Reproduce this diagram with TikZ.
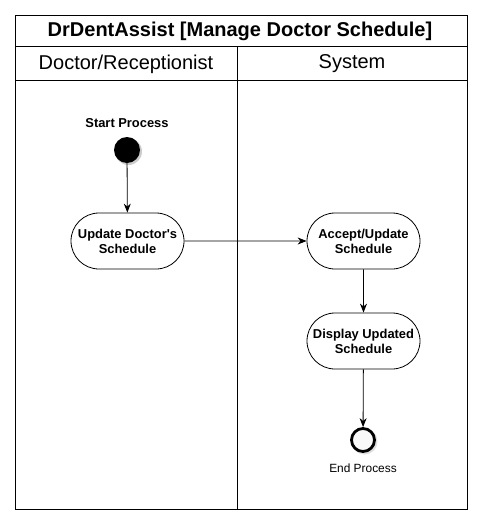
\documentclass[tikz,border=0pt]{standalone}
\usepackage{fontspec}
\setmainfont{Liberation Sans}
\usetikzlibrary{arrows.meta,shapes.misc}
\begin{document}
\begin{tikzpicture}[x=1pt,y=-1pt,
  lane/.style={draw=black,line width=0.8pt},
  act/.style={draw=black,line width=0.8pt,rounded rectangle,minimum width=117pt,minimum height=56pt,
    align=center,font=\fontsize{12.9}{15}\selectfont\bfseries,inner sep=2pt},
  flow/.style={draw=black,line width=0.8pt,-{Stealth[length=9pt,width=7pt]}},
]
\useasboundingbox (0,0) rectangle (483,525);
% swimlane frame
\draw[lane] (15,15) rectangle (467,509);
\draw[lane] (15,46) -- (467,46);
\draw[lane] (15,80) -- (467,80);
\coordinate (divtop) at (237,46);
\coordinate (divbot) at (237,509);
\draw[lane] (divtop) -- (divbot);
\node[font=\fontsize{20}{23}\selectfont\bfseries] (title) at (240,31) {DrDentAssist [Manage Doctor Schedule]};
\node[font=\fontsize{20}{23}\selectfont] (lane1) at (126,64) {Doctor/Receptionist};
\node[font=\fontsize{20}{23}\selectfont] (lane2) at (352,64) {System};
% start
\node[font=\fontsize{12.9}{15}\selectfont\bfseries] (startlbl) at (127,123) {Start Process};
\fill[gray!40] (128.5,151.5) circle (13.5pt);
\node[circle,fill=black,minimum size=26pt,inner sep=0pt] (start) at (127,150) {};
% activities
\node[act] (upd) at (127.5,241) {Update Doctor\textquotesingle s\\Schedule};
\node[act] (acc) at (363.5,241) {Accept/Update\\Schedule};
\node[act] (disp) at (363.5,341) {Display Updated\\Schedule};
% end
\fill[gray!25] (364.5,441.5) circle (13pt);
\node[circle,draw=black,line width=2.8pt,fill=gray!5,minimum size=23pt,inner sep=0pt] (end) at (363,440) {};
\node[font=\fontsize{11.9}{14}\selectfont] (endlbl) at (363,468) {End Process};
% flows
\draw[flow] (start) -- (upd);
\draw[flow] (upd) -- (acc);
\draw[flow] (acc) -- (disp);
\draw[flow] (disp) -- (end);
\end{tikzpicture}
\end{document}
